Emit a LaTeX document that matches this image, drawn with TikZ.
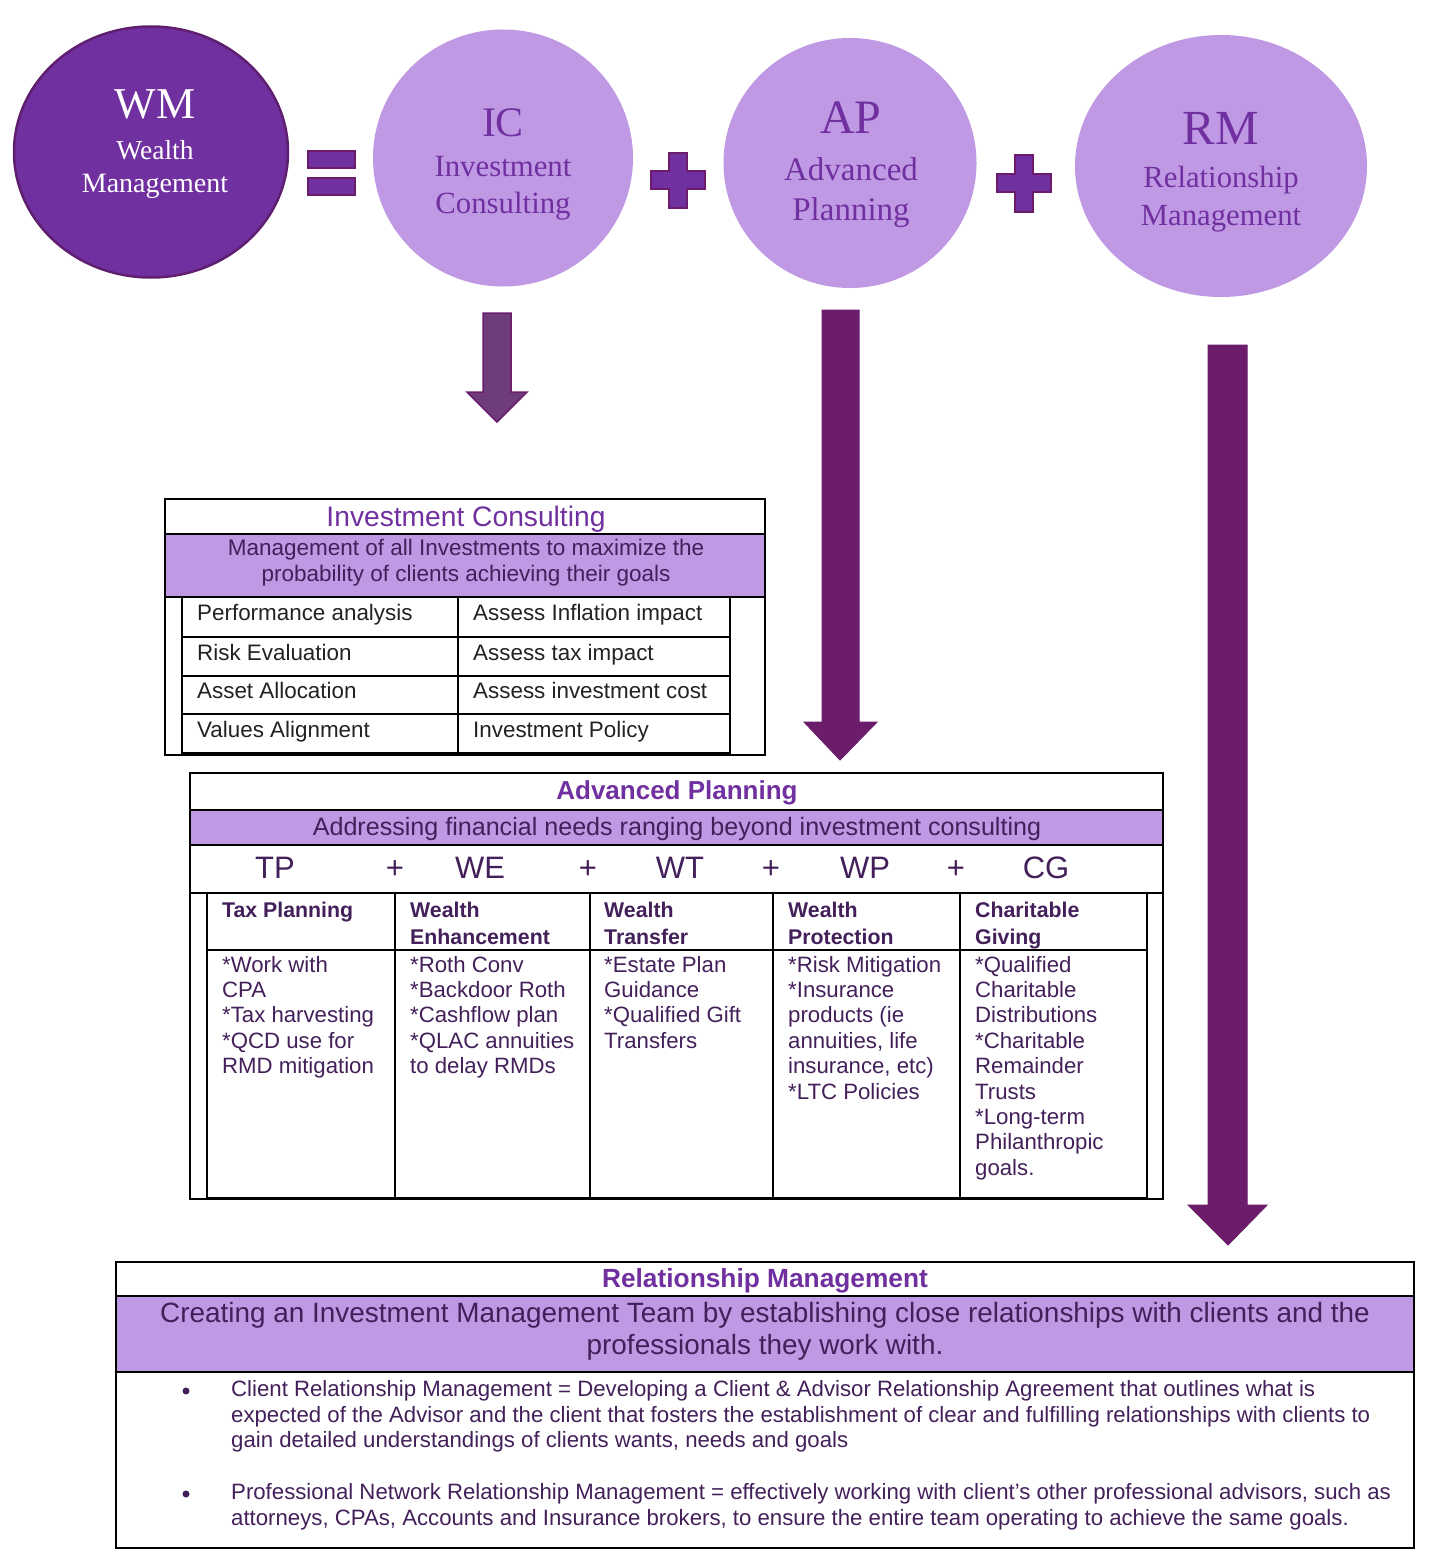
\documentclass[tikz,border=0pt]{standalone}
\usepackage{fontspec}
\setmainfont{Liberation Serif}
\setsansfont{Liberation Sans}
\usetikzlibrary{shapes.geometric}
\definecolor{wmfill}{HTML}{7030A0}
\definecolor{wmborder}{HTML}{5E1F70}
\definecolor{lightp}{HTML}{BF99E4}
\definecolor{ptitle}{HTML}{7030A0}
\definecolor{plum}{HTML}{6B1C6B}
\definecolor{icarrow}{HTML}{6E3B7B}
\definecolor{darktxt}{HTML}{43205A}
\definecolor{celltxt}{HTML}{222222}
\newcommand\myfs[2]{\fontsize{#1}{#2}\selectfont}
\tikzset{
  circnode/.style={ellipse, inner sep=0pt},
  tline/.style={line width=2.5pt, draw=black},
  bandfill/.style={fill=lightp},
  signshape/.style={fill=wmfill, draw=plum, line width=2pt},
  bigarrow/.style={fill=plum, draw=plum, line width=1pt},
  lbl/.style={inner sep=0pt, anchor=base},
  lblw/.style={inner sep=0pt, anchor=base west},
}
\begin{document}
\begin{tikzpicture}[x=1pt,y=-1pt]
\useasboundingbox (0,0) rectangle (1438,1565);
\fill[white] (0,0) rectangle (1438,1565);

% ---------- circles ----------
\node[circnode, fill=wmfill, draw=wmborder, line width=2.5pt, minimum width=274pt, minimum height=251pt] (wm) at (151,152) {};
\node[circnode, fill=lightp, minimum width=260pt, minimum height=257pt] (ic) at (503,158) {};
\node[circnode, fill=lightp, minimum width=253pt, minimum height=250pt] (ap) at (850,163) {};
\node[circnode, fill=lightp, minimum width=292pt, minimum height=262pt] (rm) at (1221,166) {};

\node[lbl, text=white, font=\myfs{44}{48}] (wm1) at (155,119) {WM};
\node[lbl, text=white, font=\myfs{27.5}{30}] (wm2) at (155,160) {Wealth};
\node[lbl, text=white, font=\myfs{28}{30}] (wm3) at (155,193) {Management};

\node[lbl, text=ptitle, font=\myfs{42}{46}] (ic1) at (503,137) {IC};
\node[lbl, text=ptitle, font=\myfs{30.8}{32}] (ic2) at (503,177) {Investment};
\node[lbl, text=ptitle, font=\myfs{30.8}{32}] (ic3) at (503,214) {Consulting};

\node[lbl, text=ptitle, font=\myfs{48}{52}] (ap1) at (851,134) {AP};
\node[lbl, text=ptitle, font=\myfs{33}{36}] (ap2) at (851,181) {Advanced};
\node[lbl, text=ptitle, font=\myfs{33}{36}] (ap3) at (851,220) {Planning};

\node[lbl, text=ptitle, font=\myfs{49}{52}] (rm1) at (1221,145) {RM};
\node[lbl, text=ptitle, font=\myfs{30.7}{32}] (rm2) at (1221,187) {Relationship};
\node[lbl, text=ptitle, font=\myfs{30.7}{32}] (rm3) at (1221,225) {Management};

% ---------- equals and plus signs ----------
\draw[signshape] (308,151) rectangle (355,168);
\draw[signshape] (308,178) rectangle (355,195);
\draw[signshape] (669,153) -- (687,153) -- (687,171) -- (705,171) -- (705,189) -- (687,189)
  -- (687,208) -- (669,208) -- (669,189) -- (651,189) -- (651,171) -- (669,171) -- cycle;
\draw[signshape] (1015,155) -- (1033,155) -- (1033,174) -- (1051,174) -- (1051,192) -- (1033,192)
  -- (1033,212) -- (1015,212) -- (1015,192) -- (997,192) -- (997,174) -- (1015,174) -- cycle;

% ---------- arrows ----------
\coordinate (icB) at (497,422);
\draw[fill=icarrow, draw=plum, line width=1.5pt] (483,313) -- (511,313) -- (511,392) -- (527,392) -- (icB)
  -- (467,392) -- (483,392) -- cycle;
\coordinate (apB) at (840,760);
\draw[bigarrow] (822,310) -- (859,310) -- (859,722) -- (877,722) -- (apB) -- (804,722) -- (822,722) -- cycle;
\coordinate (rmB) at (1228,1245);
\draw[bigarrow] (1208,345) -- (1247,345) -- (1247,1205) -- (1267,1205) -- (rmB) -- (1188,1205) -- (1208,1205) -- cycle;

% ---------- Investment Consulting table ----------
\fill[bandfill] (165,534) rectangle (765,597);
\draw[tline] (165,499) rectangle (765,755);
\draw[tline] (165,534) -- (765,534);
\draw[tline] (165,597) -- (765,597);
\draw[tline] (182,597) rectangle (730,753);
\foreach \yy in {637,676,714} \draw[tline] (182,\yy) -- (730,\yy);
\draw[tline] (458,597) -- (458,753);

\node[lbl, text=ptitle, font=\sffamily\myfs{28.2}{30}] (ictitle) at (466,526) {Investment Consulting};
\node[lbl, text=darktxt, font=\sffamily\myfs{22.5}{26}] (icband1) at (466,555) {Management of all Investments to maximize the};
\node[lbl, text=darktxt, font=\sffamily\myfs{22.5}{26}] (icband2) at (466,581) {probability of clients achieving their goals};

\node[lblw, text=celltxt, font=\sffamily\myfs{22.4}{26}] (c11) at (197,620) {Performance analysis};
\node[lblw, text=celltxt, font=\sffamily\myfs{22.4}{26}] (c21) at (197,660) {Risk Evaluation};
\node[lblw, text=celltxt, font=\sffamily\myfs{22.4}{26}] (c31) at (197,698) {Asset Allocation};
\node[lblw, text=celltxt, font=\sffamily\myfs{22.4}{26}] (c41) at (197,737) {Values Alignment};
\node[lblw, text=celltxt, font=\sffamily\myfs{22.4}{26}] (c12) at (473,620) {Assess Inflation impact};
\node[lblw, text=celltxt, font=\sffamily\myfs{22.4}{26}] (c22) at (473,660) {Assess tax impact};
\node[lblw, text=celltxt, font=\sffamily\myfs{22.4}{26}] (c32) at (473,698) {Assess investment cost};
\node[lblw, text=celltxt, font=\sffamily\myfs{22.4}{26}] (c42) at (473,737) {Investment Policy};

% ---------- Advanced Planning table ----------
\fill[bandfill] (190,810) rectangle (1163,845);
\draw[tline] (190,773) rectangle (1163,1199);
\draw[tline] (190,810) -- (1163,810);
\draw[tline] (190,845) -- (1163,845);
\draw[tline] (190,893) -- (1163,893);
\draw[tline] (207,893) rectangle (1147,1198);
\draw[tline] (207,950) -- (1147,950);
\foreach \xx in {395,590,773,960} \draw[tline] (\xx,893) -- (\xx,1198);

\node[lbl, text=ptitle, font=\sffamily\bfseries\myfs{26}{30}] (aptitle) at (677,799) {Advanced Planning};
\node[lbl, text=darktxt, font=\sffamily\myfs{25.1}{28}] (apband) at (677,835) {Addressing financial needs ranging beyond investment consulting};

\foreach \t/\xx [count=\i] in {TP/275,+/395,WE/480,+/588,WT/680,+/771,WP/865,+/956,CG/1046}
  \node[lbl, text=darktxt, font=\sffamily\myfs{31}{34}] (ab\i) at (\xx,878) {\t};

\foreach \xx/\ha/\hb [count=\i] in {222/Tax Planning/, 410/Wealth/Enhancement, 604/Wealth/Transfer, 788/Wealth/Protection, 975/Charitable/Giving}{
  \node[lblw, text=darktxt, font=\sffamily\bfseries\myfs{21.3}{26}] (hA\i) at (\xx,917) {\ha};
  \node[lblw, text=darktxt, font=\sffamily\bfseries\myfs{21.3}{26}] (hB\i) at (\xx,944) {\hb};
}

\foreach \t [count=\i] in {*Work with, CPA, *Tax harvesting, *QCD use for, RMD mitigation}
  \node[lblw, text=darktxt, font=\sffamily\myfs{22.2}{26}] (tp\i) at (222,972+25.4*\i-25.4) {\t};
\foreach \t [count=\i] in {*Roth Conv, *Backdoor Roth, *Cashflow plan, *QLAC annuities, to delay RMDs}
  \node[lblw, text=darktxt, font=\sffamily\myfs{22.2}{26}] (we\i) at (410,972+25.4*\i-25.4) {\t};
\foreach \t [count=\i] in {*Estate Plan, Guidance, *Qualified Gift, Transfers}
  \node[lblw, text=darktxt, font=\sffamily\myfs{22.2}{26}] (wt\i) at (604,972+25.4*\i-25.4) {\t};
\foreach \t [count=\i] in {*Risk Mitigation, *Insurance, products (ie, {annuities, life}, {insurance, etc)}, *LTC Policies}
  \node[lblw, text=darktxt, font=\sffamily\myfs{22.2}{26}] (wp\i) at (788,972+25.4*\i-25.4) {\t};
\foreach \t [count=\i] in {*Qualified, Charitable, Distributions, *Charitable, Remainder, Trusts, *Long-term, Philanthropic, goals.}
  \node[lblw, text=darktxt, font=\sffamily\myfs{22.2}{26}] (cg\i) at (975,972+25.4*\i-25.4) {\t};

% ---------- Relationship Management box ----------
\fill[bandfill] (116,1296) rectangle (1414,1372);
\draw[tline] (116,1262) rectangle (1414,1548);
\draw[tline] (116,1296) -- (1414,1296);
\draw[tline] (116,1372) -- (1414,1372);

\node[lbl, text=ptitle, font=\sffamily\bfseries\myfs{26.3}{30}] (rmtitle) at (765,1287) {Relationship Management};
\node[lbl, text=darktxt, font=\sffamily\myfs{27.9}{32}] (rmband1) at (765,1322) {Creating an Investment Management Team by establishing close relationships with clients and the};
\node[lbl, text=darktxt, font=\sffamily\myfs{27.9}{32}] (rmband2) at (765,1354) {professionals they work with.};

\fill[darktxt] (186,1391) circle (3.5);
\fill[darktxt] (186,1494) circle (3.5);
\node[lblw, text=darktxt, font=\sffamily\myfs{22.2}{26}] (b1) at (231,1396) {Client Relationship Management = Developing a Client \& Advisor Relationship Agreement that outlines what is};
\node[lblw, text=darktxt, font=\sffamily\myfs{22.2}{26}] (b2) at (231,1422) {expected of the Advisor and the client that fosters the establishment of clear and fulfilling relationships with clients to};
\node[lblw, text=darktxt, font=\sffamily\myfs{22.2}{26}] (b3) at (231,1447) {gain detailed understandings of clients wants, needs and goals};
\node[lblw, text=darktxt, font=\sffamily\myfs{22.2}{26}] (b4) at (231,1499) {Professional Network Relationship Management = effectively working with client’s other professional advisors, such as};
\node[lblw, text=darktxt, font=\sffamily\myfs{22.2}{26}] (b5) at (231,1525) {attorneys, CPAs, Accounts and Insurance brokers, to ensure the entire team operating to achieve the same goals.};
\end{tikzpicture}
\end{document}
